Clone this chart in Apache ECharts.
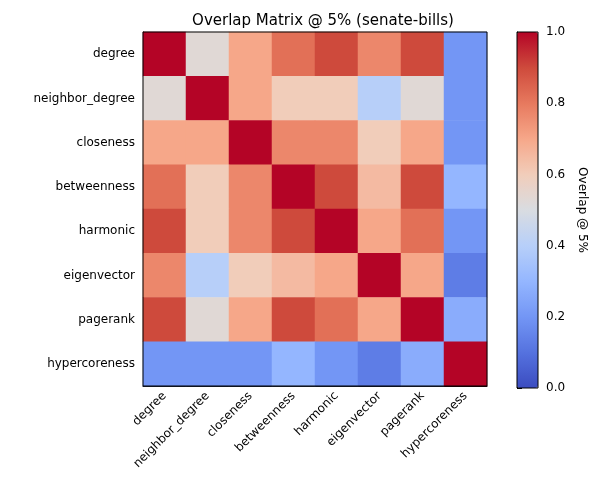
<!DOCTYPE html>
<html>
<head>
<meta charset="utf-8">
<script src="https://cdn.jsdelivr.net/npm/echarts@6/dist/echarts.min.js"></script>
<style>html,body{margin:0;padding:0;background:#fff}#chart1{width:600px;height:500px}</style>
</head>
<body>
<div id="chart1"></div>
<script>
var labels = ['degree', 'neighbor_degree', 'closeness', 'betweenness', 'harmonic', 'eigenvector', 'pagerank', 'hypercoreness'];
var matrix = [
    [1.00, 0.53, 0.70, 0.82, 0.90, 0.77, 0.90, 0.20],
    [0.53, 1.00, 0.70, 0.60, 0.60, 0.40, 0.53, 0.20],
    [0.70, 0.70, 1.00, 0.77, 0.77, 0.60, 0.70, 0.20],
    [0.82, 0.60, 0.77, 1.00, 0.90, 0.65, 0.90, 0.30],
    [0.90, 0.60, 0.77, 0.90, 1.00, 0.70, 0.82, 0.20],
    [0.77, 0.40, 0.60, 0.65, 0.70, 1.00, 0.70, 0.13],
    [0.90, 0.53, 0.70, 0.90, 0.82, 0.70, 1.00, 0.27],
    [0.20, 0.20, 0.20, 0.30, 0.20, 0.13, 0.27, 1.00]
];
var colorbarTicks = [0, 0.2, 0.4, 0.6, 0.8, 1.0];

var coolwarm = ['#3b4cc0', '#5572df', '#7396f5', '#94b6ff', '#b7cff9', '#d9dce1',
    '#f1cdba', '#f6a789', '#e7795e', '#ce4a3c', '#b40426'];

var data = [];
for (var i = 0; i < labels.length; i++) {
    for (var j = 0; j < labels.length; j++) {
        data.push([j, i, matrix[i][j]]);
    }
}

var myChart = echarts.init(document.getElementById('chart1'));
var font = 'DejaVu Sans';
var option = {
    animation: false,
    textStyle: {fontFamily: font},
    title: {
        text: 'Overlap Matrix @ 5% (senate-bills)',
        left: 318, top: 9, textAlign: 'center',
        textStyle: {fontSize: 15, fontWeight: 'normal', color: '#000', fontFamily: font}
    },
    grid: [
        {left: 143, top: 32, width: 344, height: 354, show: true, borderColor: '#000', borderWidth: 1, z: 5},
        {left: 517, top: 32, width: 21, height: 356, show: true, borderColor: '#000', borderWidth: 1, z: 5}
    ],
    xAxis: [
        {
            type: 'category', data: labels, gridIndex: 0,
            axisLine: {lineStyle: {color: '#000'}},
            axisTick: {alignWithLabel: true, lineStyle: {color: '#000'}},
            axisLabel: {rotate: 45, color: '#000', fontSize: 12, interval: 0, margin: 8},
            splitLine: {show: false}
        },
        {type: 'value', gridIndex: 1, show: false}
    ],
    yAxis: [
        {
            type: 'category', data: labels, gridIndex: 0, inverse: true,
            axisLine: {lineStyle: {color: '#000'}},
            axisTick: {alignWithLabel: true, lineStyle: {color: '#000'}},
            axisLabel: {color: '#000', fontSize: 12, interval: 0},
            splitLine: {show: false}
        },
        {
            type: 'value', gridIndex: 1, position: 'right', min: 0, max: 1, interval: 0.2,
            axisLine: {show: true, lineStyle: {color: '#000'}},
            axisTick: {show: true, lineStyle: {color: '#000'}},
            axisLabel: {color: '#000', fontSize: 12, formatter: function (v) { return v.toFixed(1); }},
            splitLine: {show: false},
            name: 'Overlap @ 5%', nameLocation: 'middle', nameGap: 38, nameRotate: -90,
            nameTextStyle: {color: '#000', fontSize: 12}
        }
    ],
    visualMap: {
        type: 'continuous', min: 0, max: 1, seriesIndex: 0,
        left: 502, top: 17, itemWidth: 21, itemHeight: 356,
        calculable: false, text: ['', ''], showLabel: false, z: 1,
        inRange: {color: coolwarm}
    },
    series: [
        {
            type: 'heatmap', data: data, xAxisIndex: 0, yAxisIndex: 0
        }
    ]
};
myChart.setOption(option);
</script>
</body>
</html>
